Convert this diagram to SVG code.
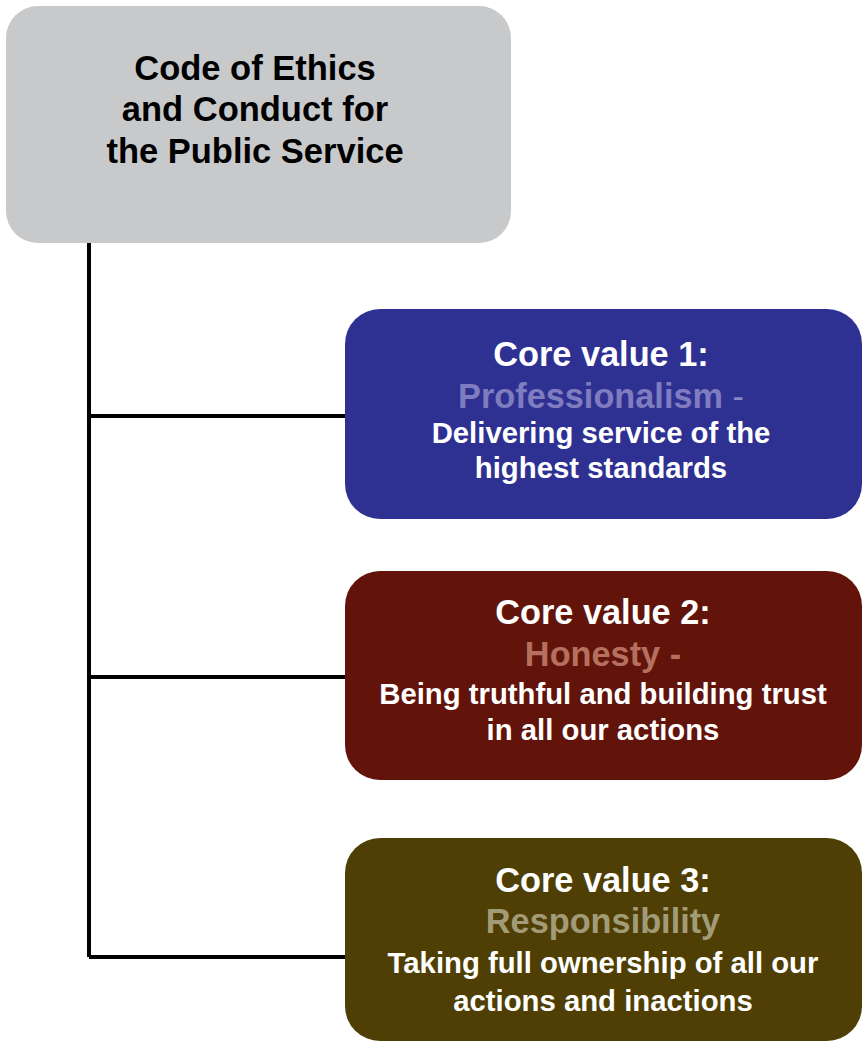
<svg xmlns="http://www.w3.org/2000/svg" width="867" height="1043" viewBox="0 0 867 1043">
<style>
text{font-family:"Liberation Sans",Arial,sans-serif;font-weight:bold;text-anchor:middle}
.t{font-size:34.5px;fill:#000}
.h{font-size:34.3px;fill:#fff}
.s{font-size:29.3px;fill:#fff}
.c{stroke:#000;stroke-width:4;fill:none}
</style>
<rect width="867" height="1043" fill="#fff"/>
<g id="connectors">
<path class="c" d="M89,243 V957 M89,416 H346 M89,677 H346 M89,957 H346"/>
</g>
<g id="root">
<rect x="6" y="6" width="505" height="237" rx="32" fill="#c8c9cb"/>
<text class="t" x="255" y="80">Code of Ethics</text>
<text class="t" x="255" y="121">and Conduct for</text>
<text class="t" x="255" y="163">the Public Service</text>
</g>
<g id="value1">
<rect x="345" y="309" width="517" height="210" rx="35" fill="#2e3192"/>
<text class="h" x="601" y="366">Core value 1:</text>
<text class="h" x="601" y="408" style="fill:#7f7cbf">Professionalism <tspan style="font-weight:normal;fill:#8a87c6">-</tspan></text>
<text class="s" x="601" y="443">Delivering service of the</text>
<text class="s" x="601" y="478">highest standards</text>
</g>
<g id="value2">
<rect x="345" y="571" width="517" height="209" rx="35" fill="#62140a"/>
<text class="h" x="603" y="624">Core value 2:</text>
<text class="h" x="603" y="666" style="fill:#b5705f">Honesty -</text>
<text class="s" x="603" y="704">Being truthful and building trust</text>
<text class="s" x="603" y="740">in all our actions</text>
</g>
<g id="value3">
<rect x="345" y="838" width="517" height="203" rx="35" fill="#4f3f05"/>
<text class="h" x="603" y="892">Core value 3:</text>
<text class="h" x="603" y="933" style="fill:#a29b78">Responsibility</text>
<text class="s" x="603" y="973">Taking full ownership of all our</text>
<text class="s" x="603" y="1011">actions and inactions</text>
</g>
</svg>
